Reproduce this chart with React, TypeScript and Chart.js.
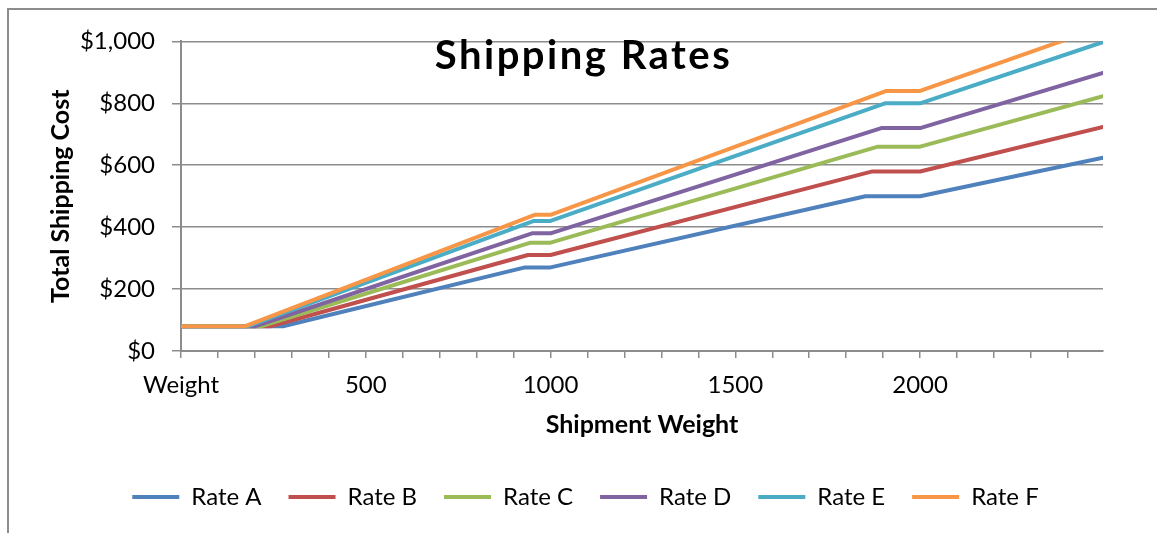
import React, { useEffect, useRef } from 'react';
import { Chart, registerables } from 'chart.js';

Chart.register(...registerables);

// Series names and the Office palette colours used for them
const seriesNames = ['Rate A', 'Rate B', 'Rate C', 'Rate D', 'Rate E', 'Rate F'];
const seriesColors = ['#4F81BD', '#C0504D', '#9BBB59', '#8064A2', '#4BACC6', '#F79646'];

// Break points of each rate schedule: shipment weight (lb) and total cost ($)
const rateAWeights = [0, 276, 931, 1000, 1852, 2000, 2495];
const rateACosts = [80, 80, 270, 270, 500, 500, 624];
const rateBWeights = [0, 242, 939, 1000, 1871, 2000, 2495];
const rateBCosts = [80, 80, 310, 310, 580, 580, 724];
const rateCWeights = [0, 216, 946, 1000, 1886, 2000, 2495];
const rateCCosts = [80, 80, 350, 350, 660, 660, 823];
const rateDWeights = [0, 200, 950, 1000, 1895, 2000, 2495];
const rateDCosts = [80, 80, 380, 380, 720, 720, 898];
const rateEWeights = [0, 182, 955, 1000, 1905, 2000, 2495];
const rateECosts = [80, 80, 420, 420, 800, 800, 998];
const rateFWeights = [0, 174, 957, 1000, 1909, 2000, 2495];
const rateFCosts = [80, 80, 440, 440, 840, 840, 1048];

const seriesWeights = [rateAWeights, rateBWeights, rateCWeights, rateDWeights, rateEWeights, rateFWeights];
const seriesCosts = [rateACosts, rateBCosts, rateCCosts, rateDCosts, rateECosts, rateFCosts];

// Axis ticks: a mark every 100 lb, labels every 500 lb
const weightTicks = [
  0, 100, 200, 300, 400, 500, 600, 700, 800, 900, 1000, 1100, 1200,
  1300, 1400, 1500, 1600, 1700, 1800, 1900, 2000, 2100, 2200, 2300, 2400,
];
const labelWeights = [0, 500, 1000, 1500, 2000];
const labelTexts = ['Weight', '500', '1000', '1500', '2000'];
const costTicks = [0, 200, 400, 600, 800, 1000];

const FONT = 'Lato';
const AXIS_GREY = '#8c8c8c';

const chartTitle = {
  id: 'chartTitle',
  afterDraw(chart: Chart) {
    const { ctx } = chart;
    ctx.save();
    ctx.font = `bold 40px ${FONT}`;
    (ctx as any).letterSpacing = '2.5px';
    ctx.fillStyle = '#000';
    ctx.textAlign = 'center';
    ctx.textBaseline = 'alphabetic';
    ctx.fillText('Shipping Rates', chart.width / 2, 59);
    ctx.restore();
  },
};

export default function App() {
  const canvasRef = useRef<HTMLCanvasElement | null>(null);

  useEffect(() => {
    if (!canvasRef.current) return;
    const datasets = seriesNames.map((name, i) => ({
      label: name,
      data: seriesWeights[i].map((w, j) => ({ x: w, y: seriesCosts[i][j] })),
      borderColor: seriesColors[i],
      backgroundColor: seriesColors[i],
      borderWidth: 4,
      pointRadius: 0,
      pointHoverRadius: 0,
      tension: 0,
      borderJoinStyle: 'round' as const,
      borderCapStyle: 'round' as const,
      // later rates are painted over earlier ones
      order: seriesNames.length - i,
    }));

    const chart = new Chart(canvasRef.current, {
      type: 'line',
      data: { datasets },
      plugins: [chartTitle],
      options: {
        animation: false,
        responsive: false,
        layout: { padding: { top: 28, right: 0, left: 4, bottom: 0 } },
        plugins: {
          tooltip: { enabled: false },
          legend: {
            position: 'bottom',
            labels: {
              usePointStyle: true,
              pointStyle: 'line',
              pointStyleWidth: 47,
              padding: 27,
              color: '#000',
              font: { family: FONT, size: 24 },
              sort: (a, b) => (a.datasetIndex ?? 0) - (b.datasetIndex ?? 0),
            },
          },
        },
        scales: {
          x: {
            type: 'linear',
            min: 0,
            max: 2495,
            afterFit: (s) => {
              s.height = 107;
            },
            afterBuildTicks: (s) => {
              s.ticks = weightTicks.map((v) => ({ value: v }));
            },
            afterTickToLabelConversion: (s) => {
              s.ticks.forEach((t) => {
                const i = labelWeights.indexOf(t.value);
                t.label = i >= 0 ? labelTexts[i] : '';
              });
            },
            ticks: {
              autoSkip: false,
              maxRotation: 0,
              minRotation: 0,
              color: '#000',
              font: { family: FONT, size: 24 },
              padding: 13,
            },
            grid: { drawOnChartArea: false, drawTicks: true, tickLength: 7, color: AXIS_GREY, lineWidth: 1.5 },
            border: { color: AXIS_GREY, width: 2 },
            title: {
              display: true,
              text: 'Shipment Weight',
              color: '#000',
              font: { family: FONT, size: 25, weight: 'bold' },
              padding: { top: 0, bottom: 18 },
            },
          },
          y: {
            min: 0,
            max: 1000,
            afterFit: (s) => {
              s.width = 168;
            },
            afterBuildTicks: (s) => {
              s.ticks = costTicks.map((v) => ({ value: v }));
            },
            ticks: {
              color: '#000',
              font: { family: FONT, size: 24 },
              padding: 17,
              callback: (v) => '$' + Number(v).toLocaleString('en-US'),
            },
            grid: { color: AXIS_GREY, lineWidth: 1.5, tickLength: 9 },
            border: { color: AXIS_GREY, width: 2 },
            title: {
              display: true,
              text: 'Total Shipping Cost',
              color: '#000',
              font: { family: FONT, size: 25, weight: 'bold' },
              padding: { top: 33, bottom: 0 },
            },
          },
          // empty margin on the right of the plot
          rightMargin: {
            type: 'linear',
            position: 'right',
            display: true,
            afterFit: (s) => {
              s.width = 55;
            },
            ticks: { display: false },
            grid: { display: false, drawTicks: false },
            border: { display: false },
          },
        },
      },
    });
    return () => chart.destroy();
  }, []);

  return (
    <div style={{ position: 'fixed', left: 0, top: 0, width: 1157, height: 533, overflow: 'hidden', background: '#fff' }}>
      <div
        style={{
          position: 'absolute',
          left: 7,
          top: 8,
          width: 1149,
          height: 540,
          borderLeft: `2px solid ${AXIS_GREY}`,
          borderTop: `2px solid ${AXIS_GREY}`,
        }}
      >
        <canvas ref={canvasRef} width={1149} height={509} style={{ display: 'block' }} />
      </div>
    </div>
  );
}
